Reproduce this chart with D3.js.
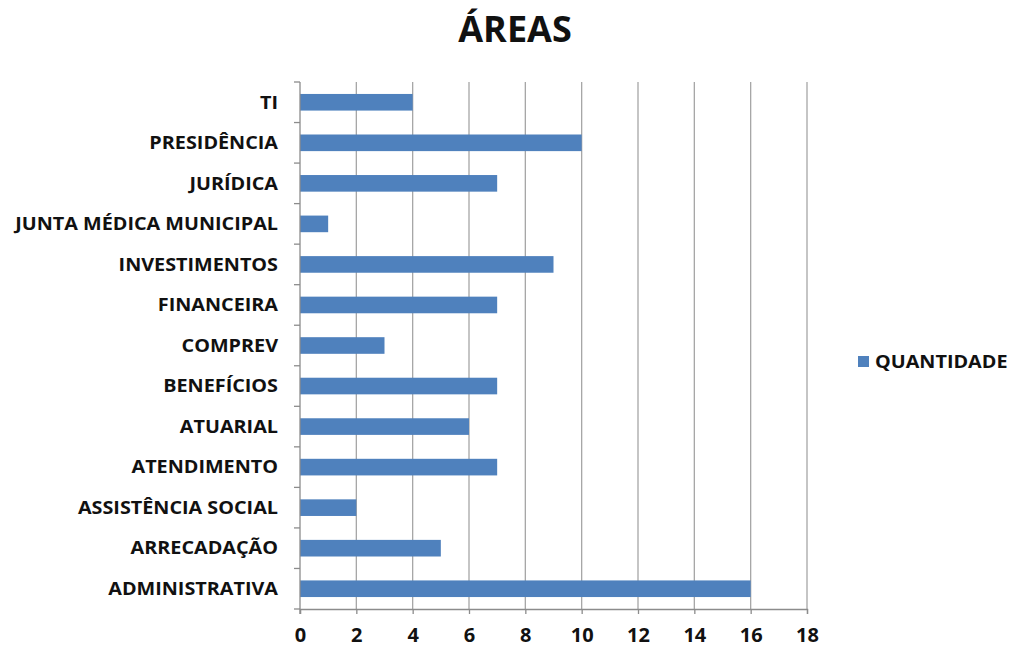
<!DOCTYPE html>
<html>
<head>
<meta charset="utf-8">
<script src="https://cdn.jsdelivr.net/npm/d3@7"></script>
<style>
  body { margin: 0; background: #fff; }
  text { font-family: "Open Sans", Lato, sans-serif; font-weight: bold; fill: #111; }
</style>
</head>
<body>
<div id="chart"></div>
<script>
const areas = ['TI', 'PRESIDÊNCIA', 'JURÍDICA', 'JUNTA MÉDICA MUNICIPAL', 'INVESTIMENTOS',
  'FINANCEIRA', 'COMPREV', 'BENEFÍCIOS', 'ATUARIAL', 'ATENDIMENTO',
  'ASSISTÊNCIA SOCIAL', 'ARRECADAÇÃO', 'ADMINISTRATIVA'];
const quantidade = [4, 10, 7, 1, 9, 7, 3, 7, 6, 7, 2, 5, 16];
const xTicks = [0, 2, 4, 6, 8, 10, 12, 14, 16, 18];

const width = 1013;
const height = 650;
const margin = { top: 82, bottom: 41, left: 300, right: 206 };
const stretch = 1.1; // the source text is a bit wide

const svg = d3.select('#chart')
  .append('svg')
  .attr('width', width)
  .attr('height', height);

const x = d3.scaleLinear()
  .domain([0, 18])
  .range([margin.left, width - margin.right]);

const y = d3.scaleBand()
  .domain(areas)
  .range([margin.top, height - margin.bottom])
  .paddingInner(0.59)
  .paddingOuter(0.295);

const yEdges = d3.scaleLinear()
  .domain([0, areas.length])
  .range([margin.top, height - margin.bottom]);

// gridlines
svg.append('g')
  .selectAll('line')
  .data(xTicks.slice(1))
  .join('line')
  .attr('x1', d => x(d)).attr('x2', d => x(d))
  .attr('y1', margin.top).attr('y2', height - margin.bottom)
  .attr('stroke', '#a6a6a6')
  .attr('stroke-width', 1.3);

// bars
svg.append('g')
  .selectAll('rect')
  .data(areas)
  .join('rect')
  .attr('x', x(0))
  .attr('y', d => y(d))
  .attr('width', (d, i) => x(quantidade[i]) - x(0))
  .attr('height', y.bandwidth())
  .attr('fill', '#4f81bd');

// y axis line + tick marks at category boundaries
const yAxisG = svg.append('g');
yAxisG.append('line')
  .attr('x1', x(0)).attr('x2', x(0))
  .attr('y1', margin.top).attr('y2', height - margin.bottom + 5)
  .attr('stroke', '#8c8c8c').attr('stroke-width', 1.3);
yAxisG.selectAll('.tk')
  .data(d3.range(areas.length + 1))
  .join('line')
  .attr('class', 'tk')
  .attr('x1', x(0) - 6).attr('x2', x(0))
  .attr('y1', d => yEdges(d)).attr('y2', d => yEdges(d))
  .attr('stroke', '#8c8c8c').attr('stroke-width', 1.3);
yAxisG.selectAll('text')
  .data(areas)
  .join('text')
  .attr('transform', d => `translate(${x(0) - 22},${y(d) + y.bandwidth() / 2}) scale(${stretch},1)`)
  .attr('dy', '0.35em')
  .attr('text-anchor', 'end')
  .attr('font-size', 18)
  .text(d => d);

// x axis
svg.append('g')
  .attr('transform', `translate(0,${height - margin.bottom})`)
  .call(d3.axisBottom(x).tickValues(xTicks).tickSize(5).tickPadding(14))
  .call(g => g.select('.domain').attr('stroke', '#8c8c8c').attr('stroke-width', 1.3))
  .call(g => g.selectAll('.tick line').attr('stroke', '#8c8c8c').attr('stroke-width', 1.3))
  .call(g => g.selectAll('.tick text').attr('font-size', 20).attr('fill', '#111')
    .attr('font-family', '"Open Sans", Lato, sans-serif').attr('font-weight', 'bold'));

// title
svg.append('text')
  .attr('x', 515)
  .attr('y', 42)
  .attr('text-anchor', 'middle')
  .attr('font-size', 36)
  .text('ÁREAS');

// legend
svg.append('rect')
  .attr('x', 858).attr('y', 356)
  .attr('width', 11).attr('height', 11)
  .attr('fill', '#4f81bd');
svg.append('text')
  .attr('transform', `translate(875,368) scale(${stretch},1)`)
  .attr('font-size', 18)
  .text('QUANTIDADE');
</script>
</body>
</html>
